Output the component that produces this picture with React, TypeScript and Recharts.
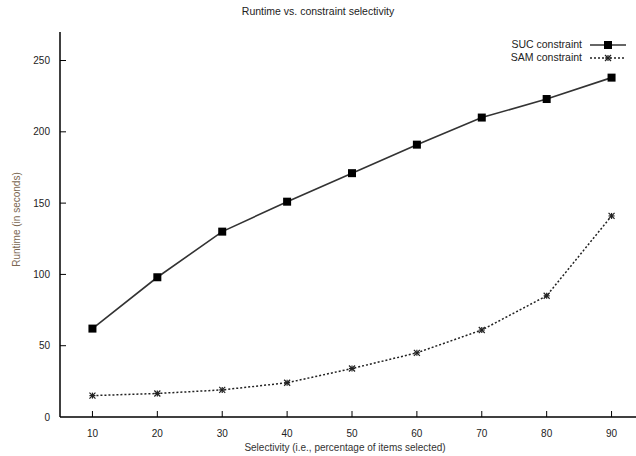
import { LineChart, Line, XAxis, YAxis, Label } from 'recharts';

const selectivity = [10, 20, 30, 40, 50, 60, 70, 80, 90];
const sucRuntime = [62, 98, 130, 151, 171, 191, 210, 223, 238];
const samRuntime = [15, 16.5, 19, 24, 34, 45, 61, 85, 141];
const xTicks = [10, 20, 30, 40, 50, 60, 70, 80, 90];
const yTicks = [0, 50, 100, 150, 200, 250];

const data = selectivity.map((s, i) => ({
  s,
  suc: sucRuntime[i],
  sam: samRuntime[i],
}));

const FONT = '"Liberation Sans", Arial, sans-serif';

const YTick = ({ x, y, payload }: any) => (
  <g>
    <text x={x} y={y} dy={3.5} textAnchor="end" fontSize={10} fill="#222" fontFamily={FONT}>
      {payload.value}
    </text>
    {payload.value !== 0 && <line x1={x + 10} x2={x + 16} y1={y} y2={y} stroke="#000" strokeWidth={1} />}
  </g>
);

const XTick = ({ x, y, payload }: any) => (
  <g>
    <text x={x} y={y} dy={10} textAnchor="middle" fontSize={10} fill="#222" fontFamily={FONT}>
      {payload.value}
    </text>
    <line x1={x} x2={x} y1={y - 10} y2={y - 16} stroke="#000" strokeWidth={1} />
  </g>
);

const TopTick = ({ x, y }: any) => (
  <line x1={x} x2={x} y1={y} y2={y + 6} stroke="#000" strokeWidth={1} />
);

const SquareDot = ({ cx, cy }: any) => (
  <rect x={cx - 4} y={cy - 4} width={8} height={8} fill="#000" />
);

const StarDot = ({ cx, cy }: any) => (
  <g stroke="#222" strokeWidth={1.2}>
    <line x1={cx - 3} x2={cx + 3} y1={cy - 3} y2={cy + 3} />
    <line x1={cx - 3} x2={cx + 3} y1={cy + 3} y2={cy - 3} />
    <line x1={cx - 3} x2={cx + 3} y1={cy} y2={cy} />
    <line x1={cx} x2={cx} y1={cy - 3} y2={cy + 3} />
  </g>
);

export default function App() {
  return (
    <div
      style={{
        position: 'absolute',
        left: 0,
        top: 0,
        width: 636,
        height: 456,
        overflow: 'hidden',
        background: '#fff',
        fontFamily: FONT,
      }}
    >
      <div
        style={{
          position: 'absolute',
          top: 5,
          left: 0,
          width: 636,
          textAlign: 'center',
          fontSize: 10.5,
          color: '#222',
        }}
      >
        Runtime vs. constraint selectivity
      </div>
      <LineChart width={652} height={456} data={data} margin={{ top: 32, right: 8, bottom: 0, left: 0 }}>
        <XAxis
          dataKey="s"
          type="number"
          domain={[5, 95]}
          ticks={xTicks}
          height={39}
          tickSize={0}
          tickMargin={10}
          tickLine={false}
          tick={<XTick />}
          axisLine={{ stroke: '#000', strokeWidth: 1.5 }}
        >
          <Label
            value="Selectivity (i.e., percentage of items selected)"
            position="insideBottom"
            offset={5}
            dx={-7}
            style={{ fontSize: 10, fill: '#333', fontFamily: FONT }}
          />
        </XAxis>
        <XAxis
          xAxisId="top"
          orientation="top"
          dataKey="s"
          type="number"
          domain={[5, 95]}
          ticks={xTicks}
          height={0}
          tickSize={0}
          tickMargin={0}
          tickLine={false}
          tick={<TopTick />}
          axisLine={{ stroke: '#000', strokeWidth: 1.5 }}
        />
        <YAxis
          type="number"
          domain={[0, 270]}
          ticks={yTicks}
          width={60}
          tickSize={0}
          tickMargin={10}
          tickLine={false}
          tick={<YTick />}
          axisLine={{ stroke: '#000', strokeWidth: 1.5 }}
        >
          <Label
            value="Runtime (in seconds)"
            angle={-90}
            position="insideLeft"
            offset={16}
            dy={-5}
            style={{ fontSize: 10, fill: '#7a6650', textAnchor: 'middle', fontFamily: FONT }}
          />
        </YAxis>
        <Line
          dataKey="suc"
          stroke="#333"
          strokeWidth={1.6}
          dot={<SquareDot />}
          activeDot={false}
          isAnimationActive={false}
        />
        <Line
          dataKey="sam"
          stroke="#222"
          strokeWidth={1.5}
          strokeDasharray="2 2"
          dot={<StarDot />}
          activeDot={false}
          isAnimationActive={false}
        />
      </LineChart>
      <div style={{ position: 'absolute', top: 38, right: 4, fontSize: 10.5, color: '#222', lineHeight: '13px' }}>
        <div style={{ display: 'flex', alignItems: 'center', justifyContent: 'flex-end' }}>
          <span>SUC constraint</span>
          <svg width={44} height={12} style={{ marginLeft: 6 }}>
            <line x1={2} x2={38} y1={6} y2={6} stroke="#333" strokeWidth={1.6} />
            <rect x={16} y={2} width={8} height={8} fill="#000" />
          </svg>
        </div>
        <div style={{ display: 'flex', alignItems: 'center', justifyContent: 'flex-end' }}>
          <span>SAM constraint</span>
          <svg width={44} height={12} style={{ marginLeft: 6 }}>
            <line x1={2} x2={38} y1={6} y2={6} stroke="#222" strokeWidth={1.5} strokeDasharray="2 2" />
            <g stroke="#222" strokeWidth={1.2}>
              <line x1={17} x2={23} y1={3} y2={9} />
              <line x1={17} x2={23} y1={9} y2={3} />
              <line x1={17} x2={23} y1={6} y2={6} />
              <line x1={20} x2={20} y1={3} y2={9} />
            </g>
          </svg>
        </div>
      </div>
    </div>
  );
}
